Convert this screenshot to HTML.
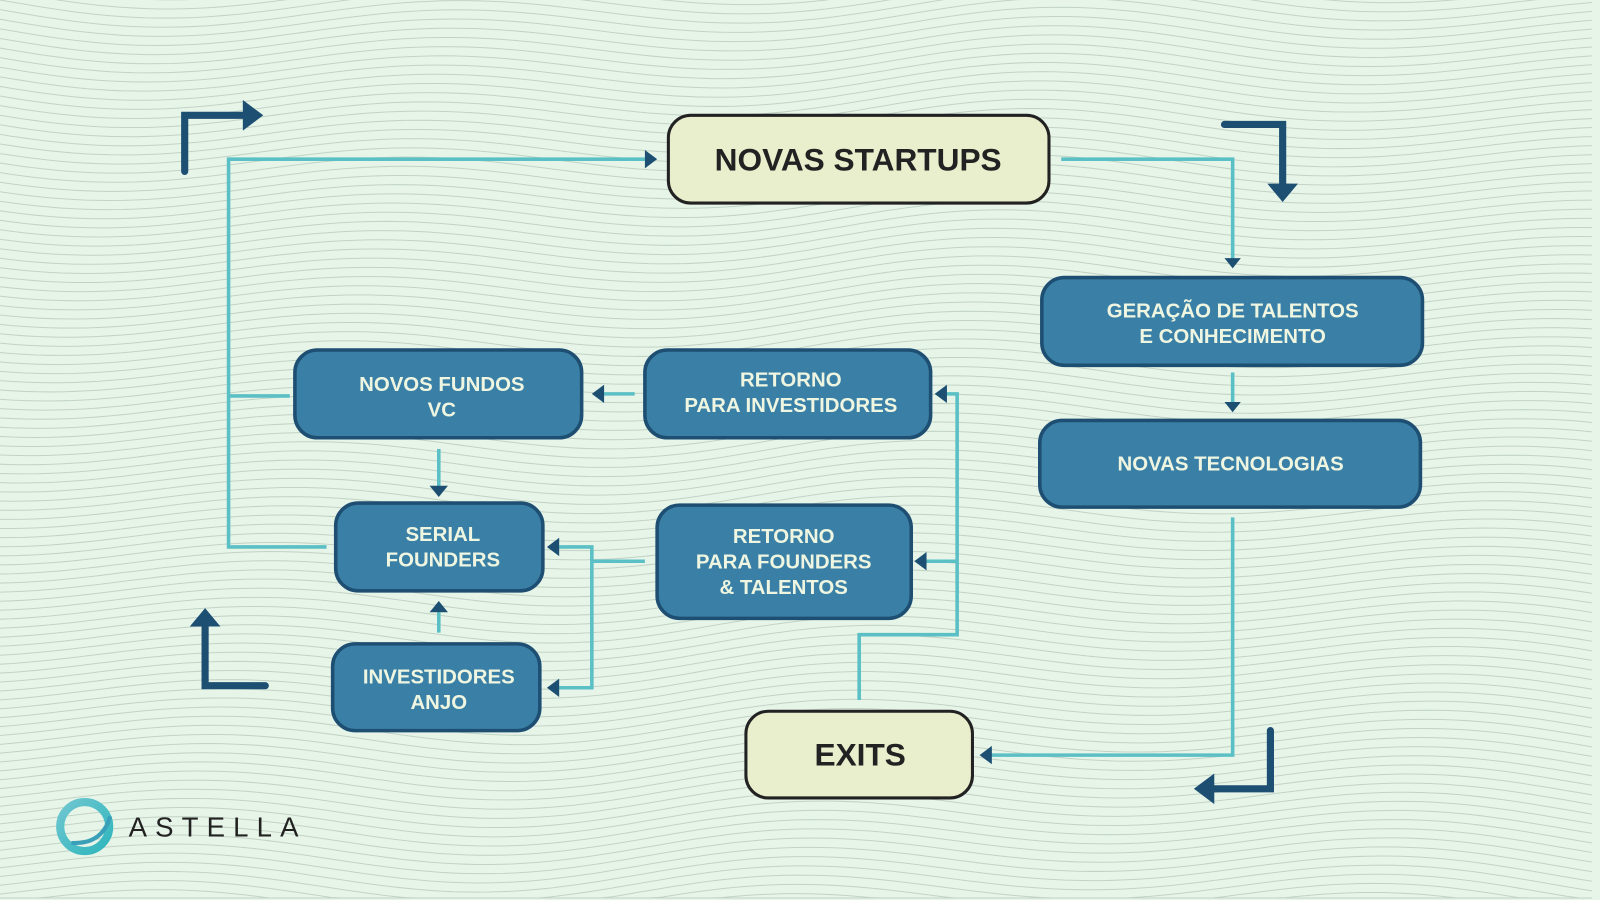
<!DOCTYPE html>
<html><head><meta charset="utf-8"><style>
html,body{margin:0;padding:0;background:#e6f5e8;width:1600px;height:900px;overflow:hidden;}
svg{display:block;overflow:hidden}
text{font-family:"Liberation Sans","DejaVu Sans",sans-serif;}
</style></head><body>
<svg id="s" width="1600" height="900" viewBox="0 0 1568 882" preserveAspectRatio="none" xmlns="http://www.w3.org/2000/svg">
<defs>
<linearGradient id="lg" x1="0" y1="0" x2="1" y2="1"><stop offset="0" stop-color="#6fc6d0"/><stop offset="1" stop-color="#2fb6bd"/></linearGradient>
<clipPath id="cp"><rect width="1568" height="882"/></clipPath>
</defs>
<rect width="1568" height="882" fill="#e6f5e8"/>
<g id="waves" fill="none" stroke="#c2d3c6" stroke-width="1" clip-path="url(#cp)"></g>

<g fill="none" stroke="#5bbfc6" stroke-width="3.5">
<polyline points="1040,156 1208,156 1208,254"/>
<line x1="1208" y1="365" x2="1208" y2="396"/>
<polyline points="1208,507 1208,740 970,740"/>
<polyline points="842,686 842,622 938,622 938,386 926,386"/>
<line x1="938" y1="550" x2="906" y2="550"/>
<line x1="622" y1="386" x2="592" y2="386"/>
<polyline points="284,388 224,388"/>
<polyline points="632,156 224,156 224,536 320,536"/>
<line x1="430" y1="440" x2="430" y2="478"/>
<polyline points="632,550 580,550"/>
<polyline points="548,536 580,536 580,674 548,674"/>
<line x1="430" y1="620" x2="430" y2="600"/>
</g>
<g fill="#1d4f73">
<polygon points="1200,253 1216,253 1208,263"/>
<polygon points="1200,394 1216,394 1208,404"/>
<polygon points="972,731 972,749 960,740"/>
<polygon points="928,377 928,395 916,386"/>
<polygon points="908,541 908,559 896,550"/>
<polygon points="592,377 592,395 580,386"/>
<polygon points="632,147 632,165 644,156"/>
<polygon points="421,476 439,476 430,487"/>
<polygon points="548,527 548,545 536,536"/>
<polygon points="548,665 548,683 536,674"/>
<polygon points="421,600 439,600 430,589"/>
</g>

<g fill="none" stroke="#1d4f73" stroke-width="7" stroke-linecap="round">
<polyline points="181,168 181,113 240,113"/>
<polyline points="1200,122 1257,122 1257,182"/>
<polyline points="260,672 201,672 201,614"/>
<polyline points="1245,716 1245,773 1188,773"/>
</g>
<g fill="#1d4f73">
<polygon points="238,98 238,128 258,113"/>
<polygon points="1242,180 1272,180 1257,198"/>
<polygon points="186,614 216,614 201,596"/>
<polygon points="1190,758 1190,788 1170,773"/>
</g>

<g fill="#e9efcc" stroke="#222" stroke-width="3">
<rect x="655" y="113" width="373" height="86" rx="22"/>
<rect x="731" y="697" width="222" height="85" rx="22"/>
</g>
<g fill="#222" font-weight="bold" text-anchor="middle" font-size="31">
<text x="841" y="167">NOVAS STARTUPS</text>
<text x="843" y="750">EXITS</text>
</g>

<g fill="#3a80a6" stroke="#1e4f73" stroke-width="3.5">
<rect x="1021" y="272" width="373" height="86" rx="22"/>
<rect x="1019" y="412" width="373" height="85" rx="22"/>
<rect x="289" y="343" width="281" height="86" rx="22"/>
<rect x="632" y="343" width="280" height="86" rx="22"/>
<rect x="329" y="493" width="203" height="86" rx="22"/>
<rect x="644" y="495" width="249" height="111" rx="22"/>
<rect x="326" y="631" width="203" height="85" rx="22"/>
</g>
<g fill="#eef5e0" font-weight="bold" text-anchor="middle" font-size="20">
<text x="1208" y="311">GERAÇÃO DE TALENTOS</text>
<text x="1208" y="336">E CONHECIMENTO</text>
<text x="1206" y="461">NOVAS TECNOLOGIAS</text>
<text x="433" y="383">NOVOS FUNDOS</text>
<text x="433" y="408">VC</text>
<text x="775" y="379">RETORNO</text>
<text x="775" y="404">PARA INVESTIDORES</text>
<text x="434" y="530">SERIAL</text>
<text x="434" y="555">FOUNDERS</text>
<text x="768" y="532">RETORNO</text>
<text x="768" y="557">PARA FOUNDERS</text>
<text x="768" y="582">&amp; TALENTOS</text>
<text x="430" y="670">INVESTIDORES</text>
<text x="430" y="695">ANJO</text>
</g>

<circle cx="83" cy="810" r="24" fill="none" stroke="url(#lg)" stroke-width="8"/>
<path d="M70,826 Q100,828 108,800" fill="none" stroke="#3a9fb8" stroke-width="4"/>
<text x="126" y="820" font-size="27" fill="#222" letter-spacing="8">ASTELLA</text>
</svg>
<script>
var g=document.getElementById('waves'),h='';
for(var k=-3;k<102;k++){var y0=k*9;var d='';
for(var x=0;x<=1568;x+=12){var y=y0+14*Math.sin(x/95+k*0.03)+6*Math.sin(x/230);y=Math.max(-5,Math.min(880,y));d+=(x?'L':'M')+x+','+y.toFixed(1);}
h+='<path d="'+d+'"/>';}
g.innerHTML=h;
</script>
</body></html>
